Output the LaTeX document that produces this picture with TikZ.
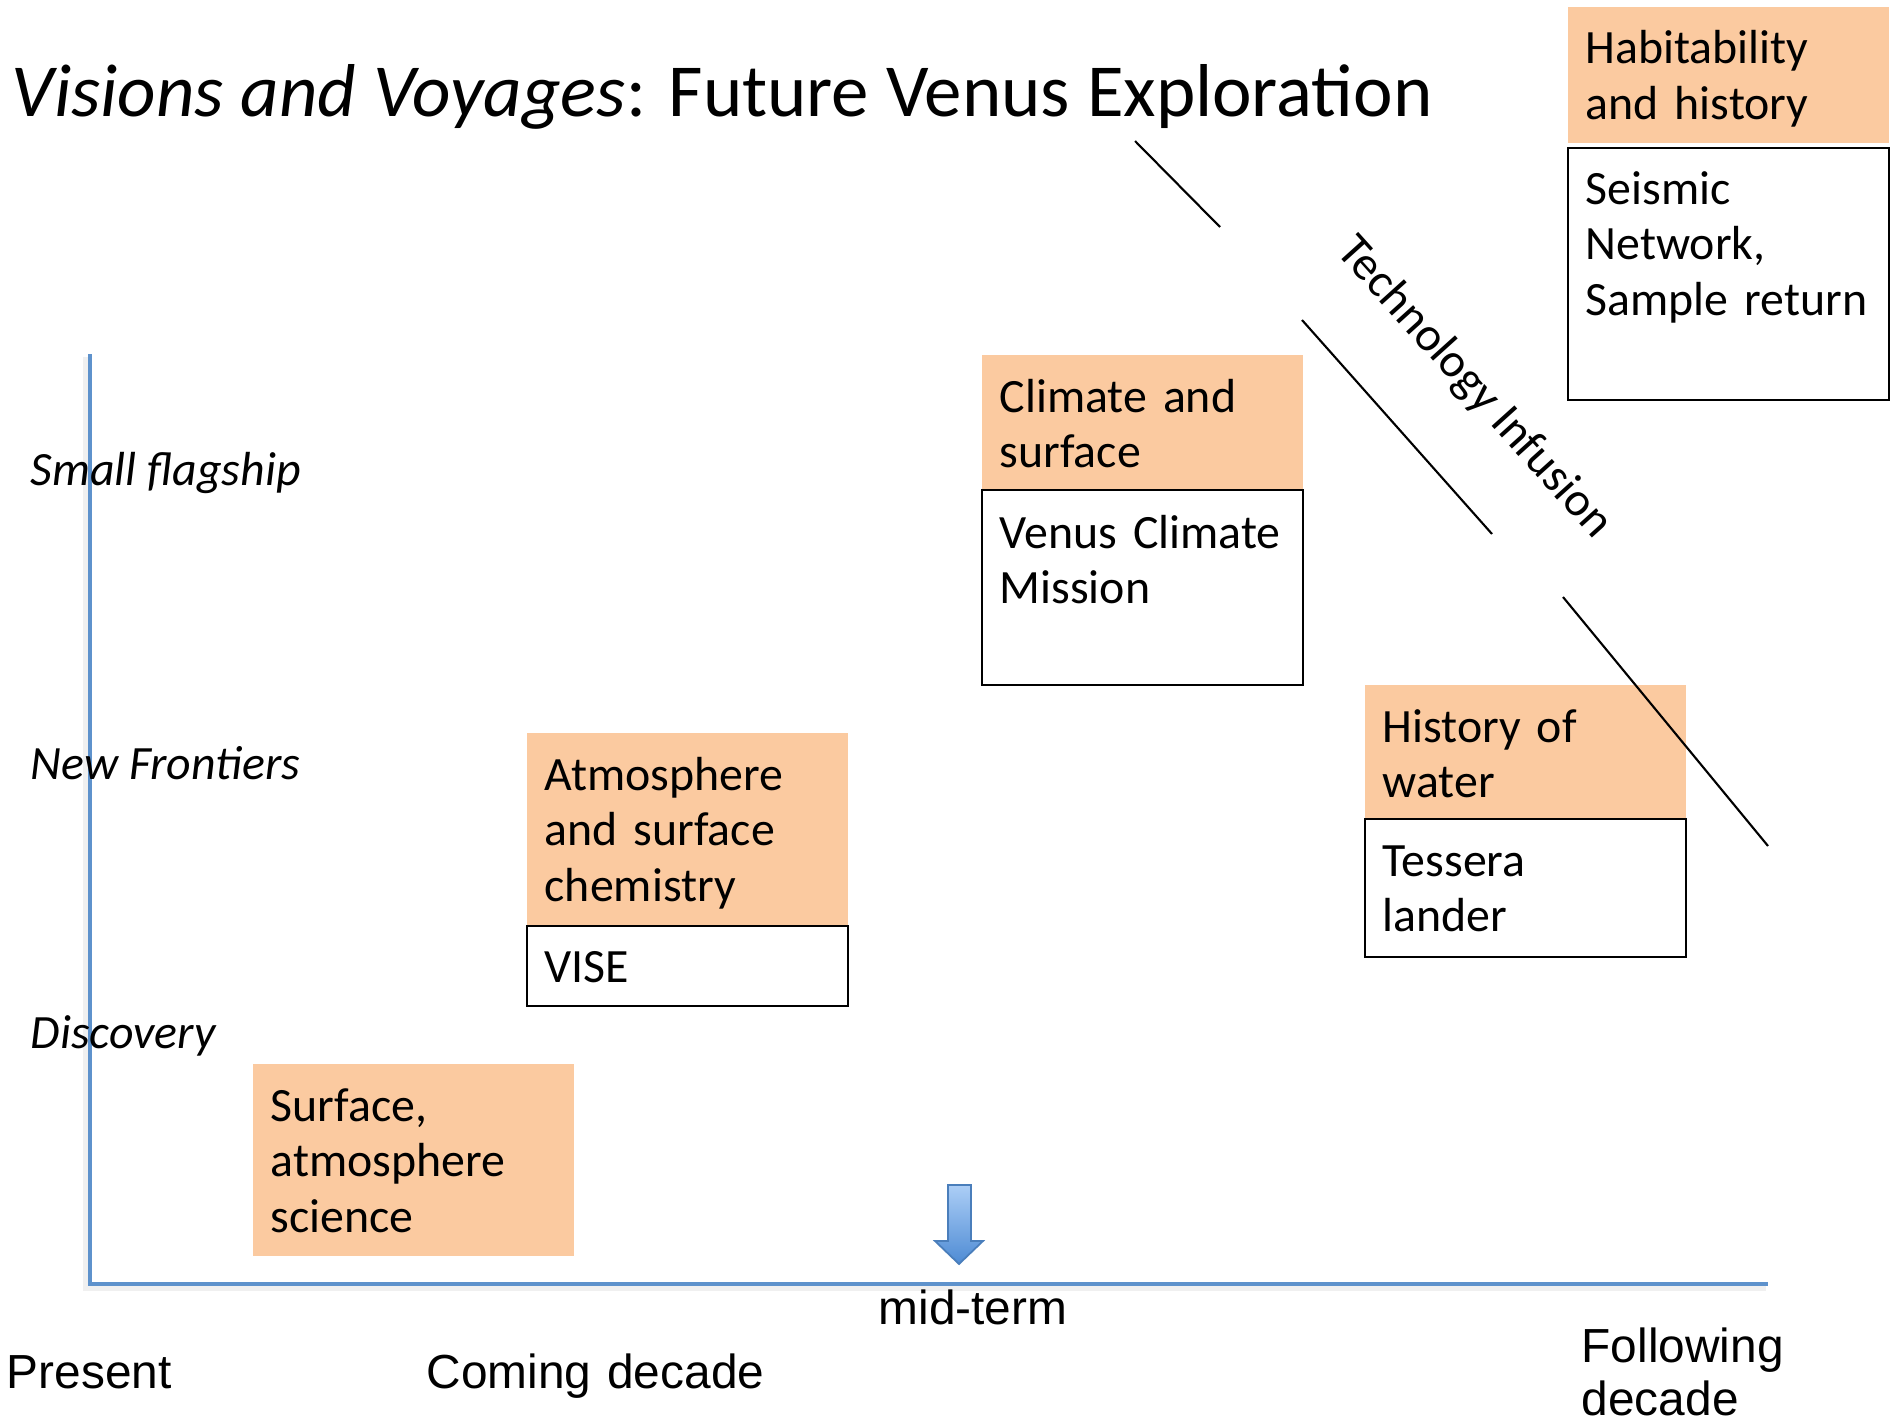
\documentclass[tikz,border=0pt]{standalone}
\usepackage{fontspec}
\setmainfont{Carlito}
\newfontfamily\arialfont{Liberation Sans}
\usetikzlibrary{positioning,calc}
\definecolor{peach}{RGB}{251,202,160}
\definecolor{axisblue}{RGB}{94,146,204}
\definecolor{arrowtop}{RGB}{172,206,246}
\definecolor{arrowbot}{RGB}{78,139,212}
\definecolor{arrowedge}{RGB}{74,126,187}
\tikzset{goal/.style={fill=peach,inner sep=0pt,anchor=north west,minimum width=3.21cm}}
\tikzset{mission/.style={draw=black,line width=0.6pt,fill=white,inner sep=0pt,anchor=north west,minimum width=3.21cm}}
\tikzset{boxtext/.style={anchor=base west,inner sep=0pt,text width=3cm,align=left,font=\fontsize{13.6pt}{15.9pt}\selectfont}}
\tikzset{level/.style={anchor=base west,inner sep=0pt,font=\fontsize{13.6pt}{15.9pt}\selectfont\itshape}}
\tikzset{era/.style={anchor=base west,inner sep=0pt,text width=3cm,align=left,font=\arialfont\fontsize{13.6pt}{15.1pt}\selectfont}}
\tikzset{axis/.style={axisblue,line width=1.4pt}}
\tikzset{infusion/.style={black,line width=0.6pt}}

\begin{document}
\begin{tikzpicture}[x=0.01cm,y=-0.01cm]
  \useasboundingbox (0,0) rectangle (1897,1421);

  \node[anchor=base west,inner sep=0pt,font=\fontsize{21.3pt}{25pt}\selectfont] (title) at (11,116)
    {\textit{Visions and Voyages}: Future Venus Exploration};

  % axes, with a faint shadow
  \draw[gray!12,line width=2pt] (87,357) -- (87,1287) -- (1766,1287);
  \draw[axis] (90,354) -- (90,1284) -- (1768,1284);

  \foreach \y/\lbl in {485/Small flagship,779/New Frontiers,1048/Discovery}
    \node[level] (lvl\y) at (30,\y) {\lbl};

  \node[era] (present) at (6,1388) {Present};
  \node[era,text width=4cm] (coming) at (426,1388) {Coming decade};
  \node[era] (midterm) at (878,1324) {mid-term};
  \node[era] (following) at (1581,1362) {Following\\decade};

  % mid-term marker
  \shade[top color=arrowtop,bottom color=arrowbot,draw=arrowedge,line width=0.5pt]
    (948,1185) -- (971,1185) -- (971,1241) -- (983,1241) -- (959,1264) -- (935,1241) -- (948,1241) -- cycle;

  % science goals and missions
  \node[goal,minimum height=1.92cm] (surf) at (252,1063) {};
  \node[boxtext] (surf-txt) at ($(surf.north west)+(18,58)$) {Surface,\\atmosphere\\science};

  \node[goal,minimum height=1.93cm] (atmo) at (526,732) {};
  \node[boxtext] (atmo-txt) at ($(atmo.north west)+(18,58)$) {Atmosphere\\and surface\\chemistry};
  \node[mission,minimum height=0.80cm] (vise) at (526,925) {};
  \node[boxtext] (vise-txt) at ($(vise.north west)+(18,57)$) {VISE};

  \node[goal,minimum height=1.35cm] (clim) at (981,354) {};
  \node[boxtext] (clim-txt) at ($(clim.north west)+(18,58)$) {Climate and\\surface};
  \node[mission,minimum height=1.95cm] (vcm) at (981,489) {};
  \node[boxtext] (vcm-txt) at ($(vcm.north west)+(18,59)$) {Venus Climate\\Mission};

  \node[goal,minimum height=1.34cm] (water) at (1364,684) {};
  \node[boxtext] (water-txt) at ($(water.north west)+(18,58)$) {History of\\water};
  \node[mission,minimum height=1.38cm] (tess) at (1364,818) {};
  \node[boxtext] (tess-txt) at ($(tess.north west)+(18,58)$) {Tessera\\lander};

  \node[goal,minimum height=1.36cm] (habit) at (1567,6) {};
  \node[boxtext] (habit-txt) at ($(habit.north west)+(18,58)$) {Habitability\\and history};
  \node[mission,minimum height=2.52cm] (seis) at (1567,147) {};
  \node[boxtext] (seis-txt) at ($(seis.north west)+(18,57)$) {Seismic\\Network,\\Sample return};

  % technology infusion
  \coordinate (ti1) at (1135,141);
  \coordinate (ti2) at (1220,227);
  \coordinate (ti3) at (1302,320);
  \coordinate (ti4) at (1492,534);
  \coordinate (ti5) at (1563,597);
  \coordinate (ti6) at (1768,846);
  \draw[infusion] (ti1) -- (ti2);
  \draw[infusion] (ti3) -- (ti4);
  \draw[infusion] (ti5) -- (ti6);
  \node[inner sep=0pt,rotate=-48,font=\fontsize{13.6pt}{15.9pt}\selectfont] (techinf) at (1474,388) {Technology Infusion};
\end{tikzpicture}
\end{document}
